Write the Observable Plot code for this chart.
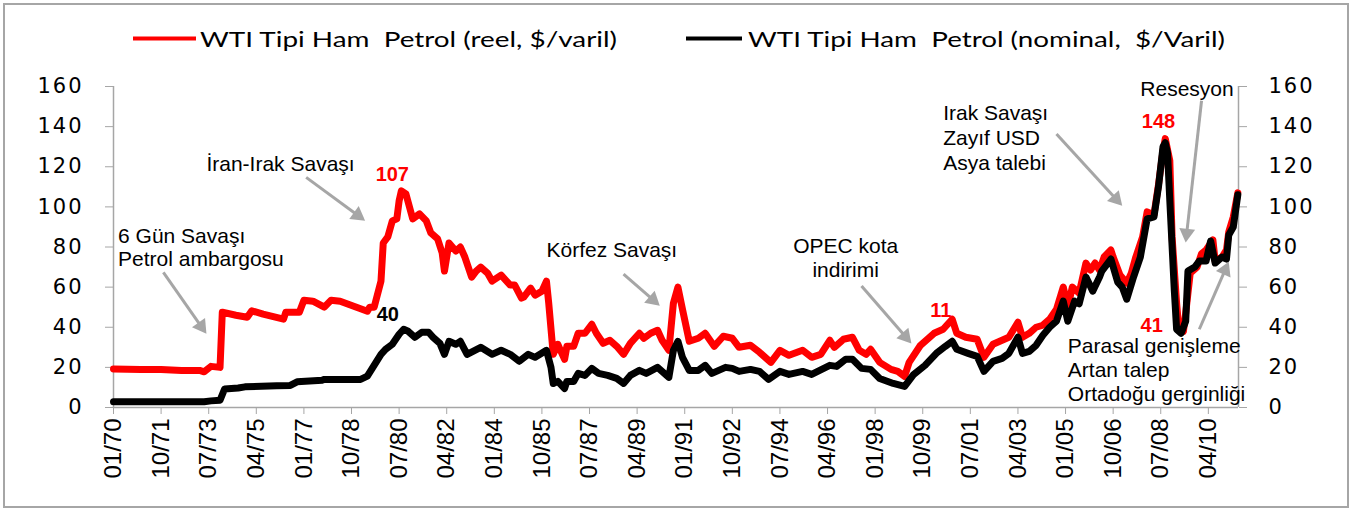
<!DOCTYPE html>
<html><head><meta charset="utf-8">
<script src="https://cdn.jsdelivr.net/npm/d3@7"></script>
<script src="https://cdn.jsdelivr.net/npm/@observablehq/plot@0.6"></script>
<style>
body{margin:0;background:#fff;}
#wrap{position:relative;width:1352px;height:510px;overflow:hidden;background:#fff}
#frame{position:absolute;left:3px;top:3px;width:1342px;height:501px;border:2px solid #a6a6a6;pointer-events:none}
#legend{position:absolute;left:0;top:0}
#plot{position:absolute;left:0;top:60px}
#plot g[aria-label="y-axis tick label"]{letter-spacing:2px}
</style></head><body>
<div id="wrap">
<svg id="legend" width="1352" height="60"></svg>
<div id="plot"></div>
<div id="frame"></div>
</div>
<script>
// ---- series: WTI real ($/varil) ----
const realDates = ["1970-01","1971-01","1971-10","1972-07","1973-03","1973-05","1973-08","1973-12","1974-01","1974-07","1974-12","1975-02","1975-07","1976-04","1976-05","1976-11","1977-01","1977-05","1977-10","1978-01","1978-05","1979-05","1979-06","1979-08","1979-11","1979-12","1980-02","1980-04","1980-06","1980-07","1980-08","1980-10","1981-01","1981-04","1981-07","1981-09","1981-12","1982-02","1982-03","1982-05","1982-08","1982-10","1982-12","1983-03","1983-05","1983-07","1983-10","1983-12","1984-04","1984-08","1984-10","1985-01","1985-02","1985-05","1985-07","1985-10","1985-12","1986-01","1986-03","1986-05","1986-06","1986-08","1986-09","1986-12","1987-02","1987-05","1987-08","1987-10","1988-01","1988-04","1988-07","1988-10","1989-01","1989-05","1989-07","1989-10","1990-01","1990-03","1990-06","1990-08","1990-10","1990-12","1991-03","1991-07","1991-10","1992-02","1992-06","1992-10","1993-01","1993-06","1993-10","1994-03","1994-07","1994-11","1995-05","1995-09","1996-01","1996-05","1996-07","1996-11","1997-03","1997-06","1997-09","1997-11","1998-03","1998-08","1998-11","1999-02","1999-04","1999-09","2000-03","2000-07","2000-11","2001-01","2001-05","2001-10","2002-01","2002-05","2002-09","2002-12","2003-04","2003-06","2003-09","2003-12","2004-03","2004-06","2004-09","2004-12","2005-02","2005-04","2005-07","2005-10","2005-12","2006-02","2006-04","2006-06","2006-09","2006-10","2007-01","2007-04","2007-06","2007-08","2007-11","2008-01","2008-04","2008-06","2008-08","2008-09","2008-11","2008-12","2009-02","2009-03","2009-05","2009-06","2009-08","2009-11","2010-01","2010-03","2010-06","2010-07","2010-10","2010-12","2011-01","2011-03","2011-05"];
const realValues = [19.2,19,19,18.5,18.5,17.8,20.5,20,47.5,46,45,48.2,46.5,44,47.5,47.5,53.5,53,50,53.5,53,48,50,50,63,82,85,93,94,103,108,106.5,94,96.5,93,87,84,77,68,82,78,80,75,65,68,70,67,63,66,61,61,54.5,55,59.5,56,58,63,52,26.5,31.5,29,24,30.5,30.5,37,37,41.5,37,32,33.5,30.5,26.5,32,37,34.5,37,38.5,33.5,28.5,52,60,49,33,34.5,37,30.5,35.5,34.5,30,31,27.5,22.5,28.5,26,28.5,25,26.5,33.5,30,34,35,28.5,26.5,29,22.5,19,18,15.5,22.5,31,37,39,44,37,35,34,25,31.5,33.5,35,42.5,35,37,40,41,44,49,60,50,60,57,72,68.5,72,68.5,75,78.5,75,66,62,67,75,85,97.5,96,111,128,134,123,85,52,39,38,47,67,70,76.7,78.5,83.5,73,75,78.5,87.5,95,107];

// ---- series: WTI nominal ($/varil) ----
const nominalDates = ["1970-01","1973-05","1973-08","1973-12","1974-02","1974-08","1974-11","1976-01","1976-07","1976-10","1977-09","1977-10","1979-02","1979-05","1979-11","1980-01","1980-04","1980-07","1980-09","1980-11","1981-02","1981-05","1981-08","1981-10","1982-01","1982-03","1982-05","1982-08","1982-10","1983-01","1983-07","1983-12","1984-04","1984-08","1984-12","1985-04","1985-07","1985-12","1986-02","1986-03","1986-05","1986-08","1986-09","1986-12","1987-02","1987-05","1987-08","1987-11","1988-03","1988-07","1988-10","1989-01","1989-05","1989-08","1990-01","1990-06","1990-08","1990-10","1990-12","1991-03","1991-07","1991-10","1992-01","1992-07","1992-10","1993-01","1993-06","1993-10","1994-02","1994-07","1994-11","1995-05","1995-09","1996-05","1996-08","1996-12","1997-03","1997-07","1997-11","1998-03","1998-09","1999-02","1999-06","1999-11","2000-04","2000-08","2000-11","2001-01","2001-06","2001-10","2002-01","2002-05","2002-09","2002-12","2003-04","2003-06","2003-09","2003-12","2004-03","2004-06","2004-09","2004-12","2005-02","2005-05","2005-07","2005-10","2006-01","2006-04","2006-05","2006-09","2006-12","2007-02","2007-04","2007-07","2007-10","2008-01","2008-04","2008-06","2008-08","2008-09","2008-10","2008-11","2009-01","2009-02","2009-04","2009-06","2009-07","2009-10","2009-12","2010-03","2010-05","2010-07","2010-10","2010-12","2011-01","2011-03","2011-05"];
const nominalValues = [2.9,2.9,3.3,3.6,9.2,9.7,10.3,10.8,11,12.8,13.6,14,14,15.6,26.5,29,31.5,36.5,39,38,35,37.5,37.5,35,32,26.5,33,31.5,33,26.5,30,26.5,28.5,26.5,23,26.5,25,28.5,20,12,13,9.5,13,13,17,16,19.5,17,16,14.5,12,16,18.5,17,20,15,28.5,33,25,18.5,18.5,21,17,20,19.5,18,19,18,14,18,16.5,18,16.5,21,20.5,24,24,19.5,19,14.5,12,10.5,16.5,21,27,30.5,33,29,27,25.5,18,23,24.5,27,35,27,28,31,36,40,43,53,43,53,51.7,65,58,65,68,74,62.5,60,54,65,75,94,95,110,130,132,127,103,58,39,37,43,68,70,73,73,83,72,75,74,86,90,106];

// ---- axes ----
const yTicks = [0,20,40,60,80,100,120,140,160];
const xTickStart = "1970-01", xTickStep = 21, xTickEnd = "2010-04";
const xEnd = 496.3; // axis end, months after 01/70

// ---- annotations ----
const noteTexts = ["6 Gün Savaşı\nPetrol ambargosu","İran-Irak Savaşı","Körfez Savaşı","Resesyon"];
const noteDates = ["1970-03","1973-06","1985-12","2007-10"];
const noteValues = [70.6,118,75.1,155.4];
const note2Texts = ["OPEC kota\nindirimi"];
const note2Dates = ["1996-12"];
const note2Values = [64.8];
const note3Texts = ["Irak Savaşı\nZayıf USD\nAsya talebi"];
const note3Dates = ["2000-07"];
const note3Values = [118.5];
const note4Texts = ["Parasal genişleme\nArtan talep\nOrtadoğu gerginliği"];
const note4Dates = ["2005-02"];
const note4Values = [3.3];

const peakTexts = ["107","11","148","41"];
const peakDates = ["1980-04","2000-06","2008-06","2008-03"];
const peakValues = [113,45.2,139.3,37.8];
const peakBlackTexts = ["40"];
const peakBlackDates = ["1980-02"];
const peakBlackValues = [42.9];

const arrowFromDates = ["1971-11","1977-02","1988-10","1997-07","2004-09","2010-01","2009-12"];
const arrowFromValues = [67.3,114.7,66.5,60.6,136.3,152.9,39.0];
const arrowToDates = ["1973-06","1979-04","1990-02","1999-05","2007-02","2009-06","2011-01"];
const arrowToValues = [36.7,93.1,50.7,31.9,100.5,82.2,72.7];

// ---- build ----
const toM = s => { const [y, m] = s.split("-").map(Number); return (y - 1970) * 12 + (m - 1); };
const fmt = m => String(m % 12 + 1).padStart(2, "0") + "/" + String((1970 + Math.floor(m / 12)) % 100).padStart(2, "0");
const real = realDates.map((d, i) => ({m: toM(d), v: realValues[i]}));
const nominal = nominalDates.map((d, i) => ({m: toM(d), v: nominalValues[i]}));
const xTicks = d3.range(toM(xTickStart), toM(xTickEnd) + 1, xTickStep);
const mk = (T, D, V) => T.map((t, i) => ({text: t, m: toM(D[i]), v: V[i]}));

const W = 1352, H = 450, ML = 113, MR = 114, MT = 26, MB = 103;
const GRAY = "#a6a6a6";
const sx = Plot.scale({x: {domain: [0, xEnd], range: [ML, W - MR]}});
const sy = Plot.scale({y: {domain: [0, 160], range: [H - MB, MT]}});
const hy = 4.6; // triangle half-unit
const shafts = [], heads = [];
arrowFromDates.forEach((d, i) => {
  const x1 = sx.apply(toM(d)), y1 = sy.apply(arrowFromValues[i]);
  const x2 = sx.apply(toM(arrowToDates[i])), y2 = sy.apply(arrowToValues[i]);
  const L = Math.hypot(x2 - x1, y2 - y1), ux = (x2 - x1) / L, uy = (y2 - y1) / L;
  const cx = x2 - ux * 2 * hy, cy = y2 - uy * 2 * hy;
  heads.push({m: sx.invert(cx), v: sy.invert(cy), a: Math.atan2(ux, -uy) * 180 / Math.PI});
  shafts.push({m1: toM(d), v1: arrowFromValues[i], m2: sx.invert(cx), v2: sy.invert(cy)});
});

const F = "Liberation Sans, Arial, sans-serif";
const plot = Plot.plot({
  width: W, height: H, marginLeft: ML, marginRight: MR, marginTop: MT, marginBottom: MB,
  x: {type: "linear", domain: [0, xEnd]},
  y: {domain: [0, 160]},
  style: {background: "transparent", overflow: "visible", fontFamily: F},
  marks: [
    Plot.ruleX([0, xEnd], {stroke: GRAY, strokeWidth: 1.5}),
    Plot.ruleY([0], {stroke: GRAY, strokeWidth: 1.5}),
    Plot.axisX({ticks: xTicks, tickFormat: fmt, tickRotate: -90, tickSize: 7, tickPadding: 4, fontSize: 24, fontFamily: F, stroke: GRAY, label: null}),
    Plot.axisY({anchor: "left", ticks: yTicks, tickSize: 8, tickPadding: 22, fontSize: 21, fontFamily: "DejaVu Sans", stroke: GRAY, label: null}),
    Plot.axisY({anchor: "right", ticks: yTicks, tickSize: 8, tickPadding: 22, fontSize: 21, fontFamily: "DejaVu Sans", stroke: GRAY, label: null}),
    Plot.line(real, {x: "m", y: "v", stroke: "#ff0000", strokeWidth: 7, strokeLinejoin: "round", strokeLinecap: "round"}),
    Plot.line(nominal, {x: "m", y: "v", stroke: "#000000", strokeWidth: 7, strokeLinejoin: "round", strokeLinecap: "round"}),
    Plot.link(shafts, {x1: "m1", y1: "v1", x2: "m2", y2: "v2", stroke: GRAY, strokeWidth: 3}),
    Plot.dot(heads, {x: "m", y: "v", symbol: "triangle", r: Math.sqrt(3 * Math.sqrt(3) * hy * hy / Math.PI), rotate: "a", fill: GRAY, stroke: "none"}),
    Plot.text(mk(noteTexts, noteDates, noteValues), {x: "m", y: "v", text: "text", textAnchor: "start", lineAnchor: "bottom", lineHeight: 1.07, fontSize: 21, fontFamily: F, fill: "#000"}),
    Plot.text(mk(note2Texts, note2Dates, note2Values), {x: "m", y: "v", text: "text", textAnchor: "middle", lineAnchor: "bottom", lineHeight: 1.19, fontSize: 21, fontFamily: F, fill: "#000"}),
    Plot.text(mk(note3Texts, note3Dates, note3Values), {x: "m", y: "v", text: "text", textAnchor: "start", lineAnchor: "bottom", lineHeight: 1.18, fontSize: 21, fontFamily: F, fill: "#000"}),
    Plot.text(mk(note4Texts, note4Dates, note4Values), {x: "m", y: "v", text: "text", textAnchor: "start", lineAnchor: "bottom", lineHeight: 1.15, fontSize: 21, fontFamily: F, fill: "#000"}),
    Plot.text(mk(peakTexts, peakDates, peakValues), {x: "m", y: "v", text: "text", textAnchor: "middle", lineAnchor: "bottom", fontSize: 20, fontWeight: "bold", fontFamily: F, fill: "#ff0000"}),
    Plot.text(mk(peakBlackTexts, peakBlackDates, peakBlackValues), {x: "m", y: "v", text: "text", textAnchor: "middle", lineAnchor: "bottom", fontSize: 20, fontWeight: "bold", fontFamily: F, fill: "#000"})
  ]
});
document.getElementById("plot").appendChild(plot);

// ---- legend ----
const legendItems = ["WTI Tipi Ham  Petrol (reel, $/varil)", "WTI Tipi Ham  Petrol (nominal,  $/Varil)"];
const legendColors = ["#ff0000", "#000000"];
const lg = d3.select("#legend");
const lx = [[133, 196, 200, 417], [686, 742, 748, 477]];
legendItems.forEach((t, i) => {
  const [a, b, tx, tl] = lx[i];
  lg.append("line").attr("x1", a).attr("x2", b).attr("y1", 38.5).attr("y2", 38.5).attr("stroke", legendColors[i]).attr("stroke-width", 4);
  lg.append("text").attr("x", tx).attr("y", 46.5).attr("font-family", "Lato, sans-serif").attr("font-size", 22)
    .attr("textLength", tl).attr("lengthAdjust", "spacingAndGlyphs").style("white-space", "pre").text(t);
});
</script>
</body></html>
